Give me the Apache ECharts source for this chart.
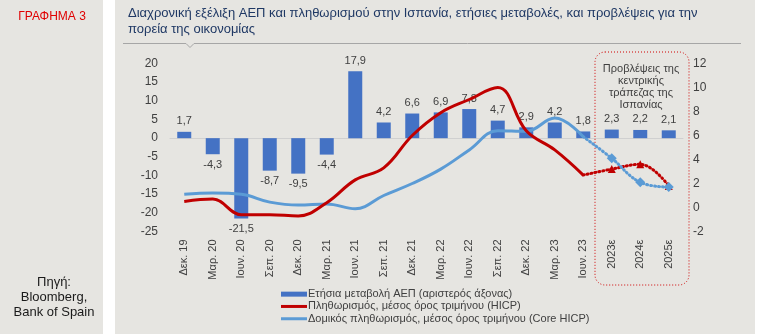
<!DOCTYPE html>
<html>
<head>
<meta charset="utf-8">
<script src="https://cdn.jsdelivr.net/npm/echarts@6/dist/echarts.min.js"></script>
<style>
  html, body { margin: 0; padding: 0; background: #ffffff; }
  #chart { width: 758px; height: 334px; }
</style>
</head>
<body>
<div id="chart"></div>
<script>
var categories = ['Δεκ. 19','Μαρ. 20','Ιουν. 20','Σεπ. 20','Δεκ. 20','Μαρ. 21','Ιουν. 21','Σεπ. 21','Δεκ. 21','Μαρ. 22','Ιουν. 22','Σεπ. 22','Δεκ. 22','Μαρ. 23','Ιουν. 23','2023ε','2024ε','2025ε'];
var gdpValues = [1.7, -4.3, -21.5, -8.7, -9.5, -4.4, 17.9, 4.2, 6.6, 6.9, 7.8, 4.7, 2.9, 4.2, 1.8, 2.3, 2.2, 2.1];
var hicpValues = [0.5, 0.7, -0.6, -0.6, -0.7, 0.4, 2.3, 3.3, 6.0, 7.9, 9.0, 10.0, 6.4, 4.8, 2.7, 3.2, 3.6, 1.8];
var coreValues = [1.1, 1.2, 1.1, 0.45, 0.2, 0.3, -0.1, 1.0, 2.0, 3.2, 4.8, 6.4, 6.35, 7.45, 5.9, 4.1, 2.1, 1.7];
var leftTicks = { min: -25, max: 20, interval: 5 };
var rightTicks = { min: -2, max: 12, interval: 2 };
var lastActualIndex = 14;

var nameGdp = 'Ετήσια μεταβολή ΑΕΠ (αριστερός άξονας)';
var nameHicp = 'Πληθωρισμός, μέσος όρος τριμήνου (HICP)';
var nameCore = 'Δομικός πληθωρισμός, μέσος όρος τριμήνου (Core HICP)';

function fmt(v) { return String(v).replace('.', ','); }

var barData = gdpValues.map(function (v) {
  return { value: v, label: { position: v >= 0 ? 'top' : 'bottom' } };
});
function solidPart(arr) {
  return arr.map(function (v, i) { return i <= lastActualIndex ? v : null; });
}
function dottedPart(arr) {
  return arr.map(function (v, i) {
    if (i < lastActualIndex) return null;
    if (i === lastActualIndex) return { value: v, symbol: 'none' };
    return v;
  });
}

var RED = '#c00000';
var BLUE = '#4472c4';
var LBLUE = '#5b9bd5';
var BG = '#e6e5e1';
var TXT = '#404040';
var FONT = 'Liberation Sans, Arial, sans-serif';

var chart = echarts.init(document.getElementById('chart'), null, { renderer: 'canvas' });
chart.setOption({
  backgroundColor: '#ffffff',
  animation: false,
  title: {
    text: 'Διαχρονική εξέλιξη ΑΕΠ και πληθωρισμού στην Ισπανία, ετήσιες μεταβολές, και προβλέψεις για την\nπορεία της οικονομίας',
    left: 123, top: 1, padding: [4, 5, 4, 5],
    textStyle: { fontFamily: FONT, fontSize: 13, fontWeight: 'normal', color: '#1f3864', lineHeight: 16 }
  },
  graphic: [
    { type: 'rect', z: -10, shape: { x: 0, y: 0, width: 103, height: 334 }, style: { fill: BG } },
    { type: 'rect', z: -10, shape: { x: 115, y: 0, width: 640, height: 334 }, style: { fill: BG } },
    { type: 'polyline', z: 1, shape: { points: [[123, 43.5], [186, 43.5], [190, 47.5], [194, 43.5], [741, 43.5]] }, style: { stroke: '#a6a6a6', lineWidth: 1, fill: null } },
    { type: 'text', z: 5, style: { x: 52, y: 17, text: 'ΓΡΑΦΗΜΑ 3', textAlign: 'center', textVerticalAlign: 'middle', fontFamily: FONT, fontSize: 12, fill: '#e00000' } },
    { type: 'text', z: 5, style: { x: 54, y: 275, text: 'Πηγή:\nBloomberg,\nBank of Spain', textAlign: 'center', fontFamily: FONT, fontSize: 13, lineHeight: 15, fill: '#1a1a1a' } },
    { type: 'rect', z: 5, shape: { x: 595, y: 52, width: 94, height: 233, r: 10 }, style: { fill: null, stroke: '#d00000', lineWidth: 1, lineDash: [1, 2] } },
    { type: 'text', z: 5, style: { x: 641, y: 63, text: 'Προβλέψεις της\nκεντρικής\nτράπεζας της\nΙσπανίας', textAlign: 'center', fontFamily: FONT, fontSize: 11, lineHeight: 12, fill: TXT } }
  ],
  legend: {
    orient: 'vertical', left: 281, top: 288, padding: 0,
    itemWidth: 26, itemHeight: 6, itemGap: 0,
    textStyle: { fontFamily: FONT, fontSize: 11, lineHeight: 12.3, color: TXT, padding: [0, 0, 0, -4] },
    data: [
      { name: nameGdp, icon: 'path://M0,0H26V5H0Z' },
      { name: nameHicp, icon: 'path://M0,0H26V3H0Z' },
      { name: nameCore, icon: 'path://M0,0H26V3H0Z' }
    ]
  },
  grid: { left: 170, right: 75, top: 63.5, bottom: 102.5, containLabel: false },
  xAxis: {
    type: 'category', data: categories,
    axisLine: { show: true, onZero: true, lineStyle: { color: '#d0d0d0', width: 1 } },
    axisTick: { show: false },
    axisLabel: { interval: 0, rotate: 90, margin: 8, fontFamily: FONT, fontSize: 11, color: TXT }
  },
  yAxis: [
    {
      type: 'value', min: leftTicks.min, max: leftTicks.max, interval: leftTicks.interval,
      axisLine: { show: false }, axisTick: { show: false }, splitLine: { show: false },
      axisLabel: { margin: 12, fontFamily: FONT, fontSize: 12, color: TXT }
    },
    {
      type: 'value', min: rightTicks.min, max: rightTicks.max, interval: rightTicks.interval,
      axisLine: { show: false }, axisTick: { show: false }, splitLine: { show: false },
      axisLabel: { margin: 10, fontFamily: FONT, fontSize: 12, color: TXT }
    }
  ],
  series: [
    {
      name: nameGdp, type: 'bar', yAxisIndex: 0, barWidth: 14, data: barData,
      itemStyle: { color: BLUE },
      label: { show: true, distance: 5, fontFamily: FONT, fontSize: 11, color: TXT, formatter: function (p) { return fmt(p.value); } },
      z: 2
    },
    {
      name: nameHicp, type: 'line', yAxisIndex: 1, data: solidPart(hicpValues), smooth: 0.4,
      symbol: 'none', lineStyle: { color: RED, width: 3 }, itemStyle: { color: RED }, z: 4
    },
    {
      name: nameCore, type: 'line', yAxisIndex: 1, data: solidPart(coreValues), smooth: 0.4,
      symbol: 'none', lineStyle: { color: LBLUE, width: 3 }, itemStyle: { color: LBLUE }, z: 3
    },
    {
      name: 'hicpForecast', type: 'line', yAxisIndex: 1, data: dottedPart(hicpValues), smooth: 0.4,
      symbol: 'triangle', symbolSize: 8, showSymbol: true,
      lineStyle: { color: RED, width: 3, type: [1, 3], cap: 'round' }, itemStyle: { color: RED }, z: 4
    },
    {
      name: 'coreForecast', type: 'line', yAxisIndex: 1, data: dottedPart(coreValues), smooth: 0.4,
      symbol: 'diamond', symbolSize: 10, showSymbol: true,
      lineStyle: { color: LBLUE, width: 3, type: [1, 3], cap: 'round' }, itemStyle: { color: LBLUE }, z: 5
    }
  ]
});
</script>
</body>
</html>
